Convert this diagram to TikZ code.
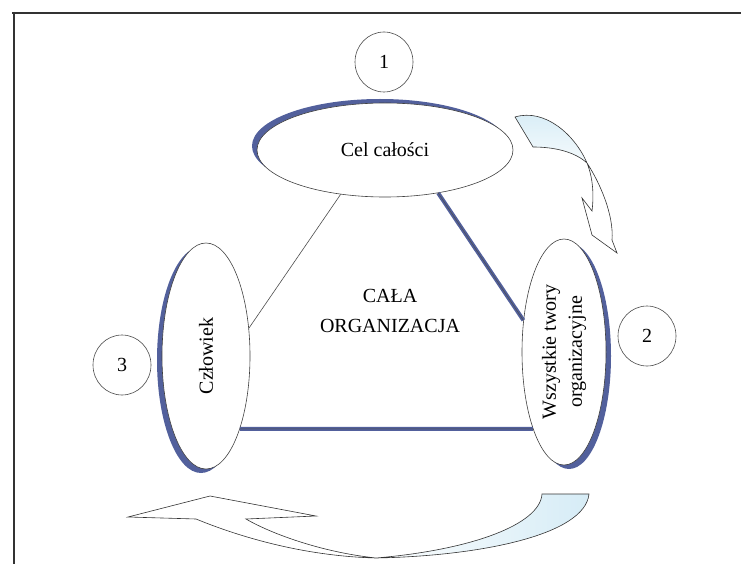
\documentclass[tikz,border=0pt]{standalone}
\usepackage{fontspec}
\setmainfont{Liberation Serif}
\usetikzlibrary{shapes.geometric,shadows}
\definecolor{shadowblue}{RGB}{82,96,156}
\definecolor{tailblue}{RGB}{214,236,246}

\begin{document}
\begin{tikzpicture}[x=1pt,y=-1pt,
  every node/.style={font=\fontsize{20}{24}\selectfont},
  oval/.style={ellipse,draw=black!75,fill=white,inner sep=0pt,line width=0.6pt},
  numcircle/.style={ellipse,draw=black!70,fill=white,minimum width=58pt,minimum height=60pt,inner sep=0pt,line width=0.6pt},
  thinlink/.style={draw=black!70,line width=0.6pt},
  thicklink/.style={draw=shadowblue,line width=4pt,postaction={draw=black!70,line width=0.5pt}},
  bentarrow/.style={draw=black!80,line width=0.6pt,line join=miter}]
  \useasboundingbox (0,0) rectangle (741,564);
  % frame
  \draw[black!80,line width=2pt] (12,13) -- (741,13);
  \draw[black!80,line width=2pt] (14,12) -- (14,564);
  % ovals
  \node[oval,minimum width=256pt,minimum height=94pt,
    drop shadow={shadow xshift=-5pt,shadow yshift=4pt,fill=shadowblue,opacity=1}]
    (cel) at (385,150) {Cel całości};
  \node[oval,minimum width=88pt,minimum height=226pt,
    drop shadow={shadow xshift=-5pt,shadow yshift=-4pt,fill=shadowblue,opacity=1}]
    (czl) at (206,356) {\rotatebox{90}{Człowiek}};
  \node[oval,minimum width=84pt,minimum height=226pt,
    drop shadow={shadow xshift=5pt,shadow yshift=-4pt,fill=shadowblue,opacity=1}]
    (wsz) at (564,352) {\rotatebox{90}{\begin{tabular}{@{}c@{}}Wszystkie twory\\[2pt]organizacyjne\end{tabular}}};
  \node[align=center] (cala) at (390,311) {CAŁA\\[6pt]ORGANIZACJA};
  % numbers
  \node[numcircle] (one) at (384,62) {1};
  \node[numcircle] (two) at (647,336) {2};
  \node[numcircle] (three) at (122,365) {3};
  % links
  \draw[thinlink] (cel.225) -- (czl.33);
  \draw[thicklink] (cel.-39) -- (wsz.142);
  \draw[thicklink] (czl.-65) -- (wsz.248);
  % bent arrows
  \draw[bentarrow,top color=tailblue,bottom color=white,middle color=white]
    (515,117) .. controls (545,108) and (575,135) .. (587,163)
    .. controls (600,183) and (614,215) .. (612,240) -- (617,253)
    -- (592,235) -- (582,198) -- (592,211)
    .. controls (594,195) and (593,178) .. (587,163)
    .. controls (575,152) and (555,147) .. (533,147) -- cycle;
  \draw[bentarrow,left color=white,right color=tailblue,middle color=white]
    (128,517) -- (196,519) .. controls (235,535) and (300,556) .. (376,558)
    .. controls (480,556) and (585,535) .. (589,494) -- (542,494)
    .. controls (540,525) and (470,550) .. (376,558)
    .. controls (320,552) and (270,533) .. (246,519)
    -- (316,516) -- (210,496) -- cycle;
\end{tikzpicture}
\end{document}
